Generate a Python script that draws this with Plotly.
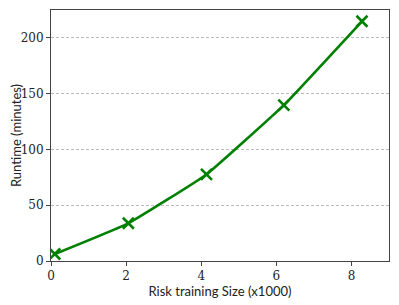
import plotly.graph_objects as go

sizes = [0.1, 2.06, 4.14, 6.2, 8.28]
runtime = [6.3, 33.8, 77.6, 139.7, 214.9]
x_ticks = [0, 2, 4, 6, 8]
y_ticks = [0, 50, 100, 150, 200]

fig = go.Figure()
fig.add_trace(go.Scatter(
    x=sizes, y=runtime, mode="lines+markers",
    line=dict(color="#008000", width=2.6, shape="spline", smoothing=0.3),
    marker=dict(symbol="x-thin", size=11, line=dict(color="#008000", width=2.6)),
    showlegend=False,
))
axis_common = dict(
    showline=True, linecolor="#444", linewidth=1, mirror=True,
    ticks="outside", ticklen=4, tickcolor="#444",
    tickfont=dict(family="'DejaVu Serif', serif", size=12, color="#222"),
    zeroline=False, automargin=False,
)
fig.update_xaxes(range=[0, 9], tickvals=x_ticks, showgrid=False,
                 title=dict(text="Risk training Size (x1000)", standoff=4,
                            font=dict(family="Lato", size=13, color="#222")),
                 **axis_common)
fig.update_yaxes(range=[0, 225], tickvals=y_ticks, showgrid=True,
                 gridcolor="#bbbbbb", griddash="3px,2px", gridwidth=0.7,
                 title=dict(text="Runtime (minutes)", standoff=7,
                            font=dict(family="Lato", size=13, color="#222")),
                 **axis_common)
# page body has an 8px default margin; size the figure so the plot area
# lands where the reference's does
fig.update_layout(
    width=391, height=297,
    margin=dict(l=43, r=10, t=2, b=44),
    plot_bgcolor="white", paper_bgcolor="white",
)
fig.write_html("out.html")
